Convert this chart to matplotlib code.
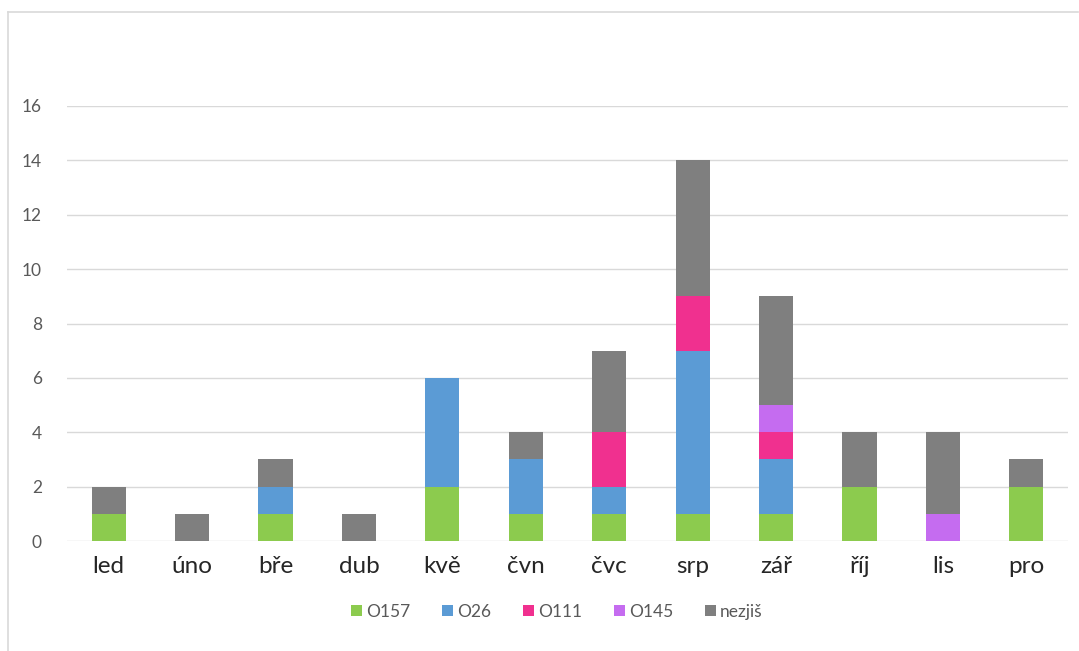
import matplotlib.pyplot as plt
from matplotlib.lines import Line2D
from matplotlib.patches import Patch
import numpy as np

plt.rcParams['font.family'] = ['Lato', 'DejaVu Sans']

months = ['led', 'úno', 'bře', 'dub', 'kvě', 'čvn', 'čvc', 'srp', 'zář', 'říj', 'lis', 'pro']
series_names = ['O157', 'O26', 'O111', 'O145', 'nezjiš']
o157 = [1, 0, 1, 0, 2, 1, 1, 1, 1, 2, 0, 2]
o26 = [0, 0, 1, 0, 4, 2, 1, 6, 2, 0, 0, 0]
o111 = [0, 0, 0, 0, 0, 0, 2, 2, 1, 0, 0, 0]
o145 = [0, 0, 0, 0, 0, 0, 0, 0, 1, 0, 1, 0]
nezjis = [1, 1, 1, 1, 0, 1, 3, 5, 4, 2, 3, 1]
yticks = [0, 2, 4, 6, 8, 10, 12, 14, 16]

colors = ['#8CCB4E', '#5B9BD5', '#F0308F', '#C56CF0', '#7F7F7F']

fig = plt.figure(figsize=(10.79, 6.51), dpi=100)
ax = fig.add_axes([67 / 1079, 1 - 541 / 651, 1001 / 1079, 435 / 651])

x = np.arange(len(months))
bottom = np.zeros(len(months))
for name, vals, c in zip(series_names, [o157, o26, o111, o145, nezjis], colors):
    v = np.array(vals, dtype=float)
    ax.bar(x, v, bottom=bottom, width=0.41, color=c, label=name, zorder=3)
    bottom += v

ax.set_xlim(-0.5, len(months) - 0.5)
ax.set_ylim(0, 16)
ax.set_yticks(yticks)
ax.set_yticklabels([str(t) for t in yticks], fontsize=12.5, color='#595959')
ax.set_xticks(x)
ax.set_xticklabels(months, fontsize=17.5, color='#262626')
ax.tick_params(axis='both', length=0)
ax.tick_params(axis='y', pad=18)
ax.tick_params(axis='x', pad=11)
ax.grid(axis='y', color='#D9D9D9', linewidth=1, zorder=0)
for s in ax.spines.values():
    s.set_visible(False)

handles = [Patch(facecolor=c, edgecolor='none') for c in colors]
fig.legend(handles, series_names, loc='center', bbox_to_anchor=(557 / 1079, 1 - 612 / 651),
           ncol=5, frameon=False, fontsize=12.5, labelcolor='#595959',
           handlelength=0.6, handleheight=0.6, handletextpad=0.25, columnspacing=1.85)

# chart frame lines
fig.add_artist(Line2D([8 / 1079, 1078 / 1079], [1 - 12 / 651, 1 - 12 / 651],
                      transform=fig.transFigure, color='#D9D9D9', linewidth=1.2))
fig.add_artist(Line2D([8 / 1079, 8 / 1079], [1 - 12 / 651, 0],
                      transform=fig.transFigure, color='#D9D9D9', linewidth=1.2))

fig.savefig('out.png', dpi=100)
